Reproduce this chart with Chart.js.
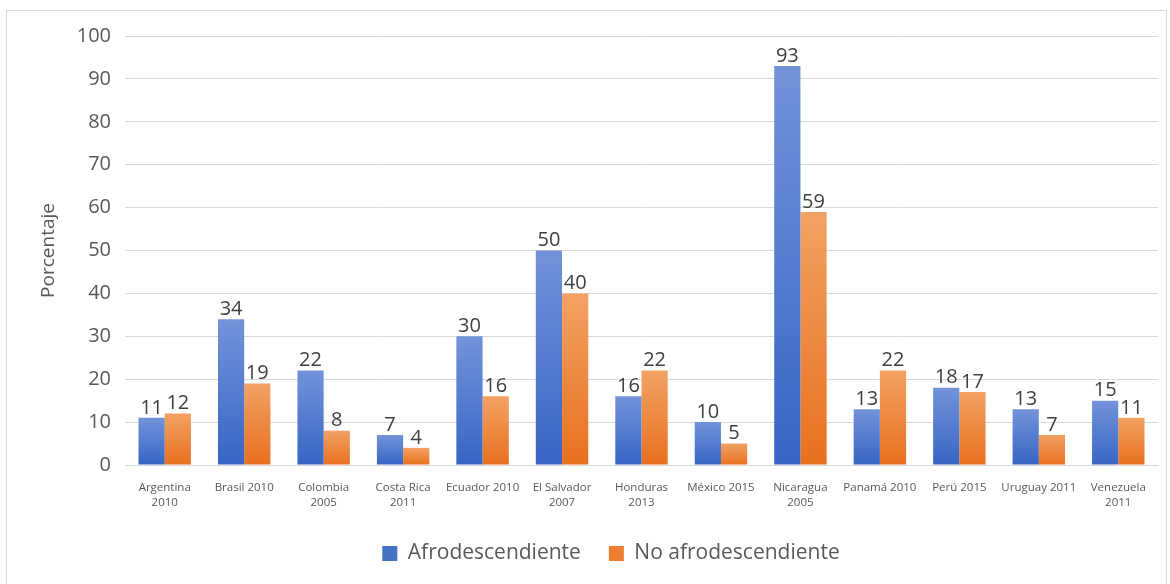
<!DOCTYPE html>
<html>
<head>
<meta charset="utf-8">
<script src="https://cdn.jsdelivr.net/npm/chart.js@4.4.0/dist/chart.umd.min.js"></script>
<style>
  html, body { margin: 0; padding: 0; background: #ffffff; }
  #frame { position: absolute; left: 6px; top: 10px; width: 1161px; height: 580px; border: 1px solid #d9d9d9; box-sizing: border-box; }
  #wrap { position: absolute; left: 0; top: 0; width: 1170px; height: 584px; }
</style>
</head>
<body>
<div id="frame"></div>
<div id="wrap"><canvas id="c" width="1170" height="584"></canvas></div>
<script>
const categories = [
  ["Argentina", "2010"], "Brasil 2010", ["Colombia", "2005"], ["Costa Rica", "2011"],
  "Ecuador 2010", ["El Salvador", "2007"], ["Honduras", "2013"], "México 2015",
  ["Nicaragua", "2005"], "Panamá 2010", "Perú 2015", "Uruguay 2011", ["Venezuela", "2011"]
];
const seriesNames = ["Afrodescendiente", "No afrodescendiente"];
const afroValues = [11, 34, 22, 7, 30, 50, 16, 10, 93, 13, 18, 13, 15];
const noAfroValues = [12, 19, 8, 4, 16, 40, 22, 5, 59, 22, 17, 7, 11];
const yTicks = [0, 10, 20, 30, 40, 50, 60, 70, 80, 90, 100];
const yTitle = "Porcentaje";

const FONT = "'Open Sans', 'Noto Sans', sans-serif";

function gradientFill(topColor, bottomColor, solid) {
  return function (ctx) {
    const chart = ctx.chart;
    if (!chart.chartArea || ctx.raw === undefined) return solid;
    const ys = chart.scales.y;
    const top = ys.getPixelForValue(ctx.raw);
    const bot = ys.getPixelForValue(0);
    if (!isFinite(top) || !isFinite(bot) || top === bot) return solid;
    const g = chart.ctx.createLinearGradient(0, top, 0, bot);
    g.addColorStop(0, topColor);
    g.addColorStop(1, bottomColor);
    return g;
  };
}

const valueLabels = {
  id: 'valueLabels',
  afterDatasetsDraw(chart) {
    const ctx = chart.ctx;
    ctx.save();
    ctx.font = "20px " + FONT;
    ctx.fillStyle = "#404040";
    ctx.textAlign = "center";
    ctx.textBaseline = "bottom";
    chart.data.datasets.forEach((ds, i) => {
      const meta = chart.getDatasetMeta(i);
      meta.data.forEach((bar, j) => {
        ctx.fillText(String(ds.data[j]), bar.x, bar.y);
      });
    });
    ctx.restore();
  }
};

const legendShift = {
  id: 'legendShift',
  afterLayout(chart) {
    if (chart.legend) {
      chart.legend.left += 32;
      chart.legend.right += 32;
    }
  }
};

new Chart(document.getElementById('c'), {
  type: 'bar',
  data: {
    labels: categories,
    datasets: [
      {
        label: seriesNames[0],
        data: afroValues,
        backgroundColor: gradientFill('#7393d9', '#3765c4', '#4472c4'),
        borderWidth: 0
      },
      {
        label: seriesNames[1],
        data: noAfroValues,
        backgroundColor: gradientFill('#f2a264', '#e8701e', '#ed7d31'),
        borderWidth: 0
      }
    ]
  },
  options: {
    responsive: false,
    animation: false,
    devicePixelRatio: 1,
    layout: { padding: { left: 0, right: 12, top: 36, bottom: 10 } },
    datasets: { bar: { categoryPercentage: 0.66, barPercentage: 1.0 } },
    plugins: {
      legend: {
        position: 'bottom',
        labels: {
          font: { family: FONT, size: 21 },
          color: '#595959',
          boxWidth: 15,
          boxHeight: 15,
          padding: 28,
          generateLabels(chart) {
            return chart.data.datasets.map((ds, i) => ({
              text: ds.label,
              fillStyle: i === 0 ? '#4472c4' : '#ed7d31',
              strokeStyle: i === 0 ? '#4472c4' : '#ed7d31',
              lineWidth: 0,
              datasetIndex: i,
              fontColor: '#595959'
            }));
          }
        }
      },
      tooltip: { enabled: false }
    },
    scales: {
      x: {
        grid: { display: false, drawTicks: false },
        border: { display: true, color: '#d9d9d9', width: 1 },
        ticks: {
          font: { family: FONT, size: 11.5, lineHeight: 1.3 },
          color: '#595959',
          maxRotation: 0,
          autoSkip: false,
          padding: 15
        },
        afterFit(s) { s.height = 50; }
      },
      y: {
        min: 0,
        max: 100,
        afterBuildTicks(s) { s.ticks = yTicks.map(v => ({ value: v })); },
        grid: { color: '#d9d9d9', lineWidth: 1, drawTicks: false },
        border: { display: false },
        ticks: {
          font: { family: FONT, size: 20 },
          color: '#595959',
          padding: 14
        },
        title: {
          display: true,
          text: yTitle,
          font: { family: FONT, size: 19 },
          color: '#595959',
          padding: { top: 37, bottom: 0 }
        },
        afterFit(s) { s.width = 125; }
      }
    }
  },
  plugins: [valueLabels, legendShift]
});
</script>
</body>
</html>
